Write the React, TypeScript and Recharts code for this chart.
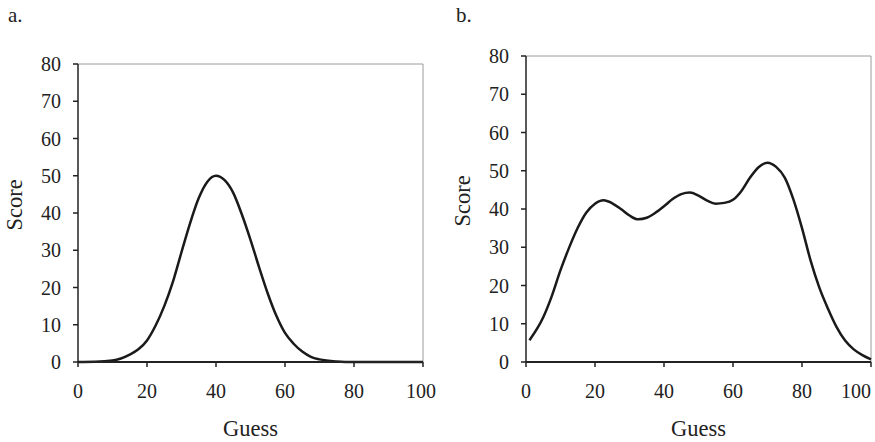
import { LineChart, Line, XAxis, YAxis, ReferenceLine } from 'recharts';

// panel a: single peak
const guessA = [0, 5, 10, 15, 17.5, 20, 22.5, 25, 27.5, 30, 32.5, 35, 37.5, 40, 42.5, 45, 47.5, 50, 52.5, 55, 57.5, 60, 62.5, 65, 67.5, 70, 75, 80, 85, 90, 95, 100];
const scoreA = [0, 0.05, 0.4, 2.0, 3.4, 5.8, 9.8, 15, 21.5, 29.5, 37.3, 44, 48.4, 50, 48.8, 45.4, 39.6, 32.8, 25.4, 18.4, 12.4, 7.8, 4.9, 2.8, 1.4, 0.7, 0.15, 0, 0, 0, 0, 0];

// panel b: several bumps
const guessB = [1, 5, 7.5, 10, 12.5, 15, 17.5, 20, 22.5, 25, 27.5, 30, 32.5, 35, 37.5, 40, 42.5, 45, 47.5, 50, 52.5, 55, 57.5, 60, 62.5, 65, 67.5, 70, 72.5, 75, 77.5, 80, 82.5, 85, 87.5, 90, 92.5, 95, 97.5, 100];
const scoreB = [5.7, 11.7, 17.3, 24, 29.9, 35.1, 39.1, 41.4, 42.3, 41.5, 40, 38.3, 37.3, 37.7, 39, 40.7, 42.6, 43.9, 44.3, 43.5, 42.2, 41.4, 41.6, 42.4, 44.8, 48.3, 51, 52.1, 51, 48.2, 42.5, 35, 26.5, 19.5, 14, 9.2, 5.6, 3.3, 1.8, 0.7];

const xTicks = [0, 20, 40, 60, 80, 100];
const yTicks = [0, 10, 20, 30, 40, 50, 60, 70, 80];

const dataA = guessA.map((x, i) => ({ guess: x, score: scoreA[i] }));
const dataB = guessB.map((x, i) => ({ guess: x, score: scoreB[i] }));

const FONT = '"Liberation Serif", "DejaVu Serif", serif';
const ink = '#222';
const tickStyle = { fill: ink, fontSize: 20, fontFamily: FONT };
const titleStyle = { fill: ink, fontSize: 22.5, fontFamily: FONT };

// x tick that is pulled back inside the chart when it would run off the right edge
function makeXTick(maxX: number) {
  return (props: any) => {
    const { x, y, payload } = props;
    const label = String(payload.value);
    const half = label.length * 5;
    const cx = Math.min(x, maxX - half);
    return (
      <text x={cx} y={y} dy="0.71em" textAnchor="middle" {...tickStyle}>
        {label}
      </text>
    );
  };
}

type Margin = { top: number; right: number; left: number; bottom: number };

function Panel({ data, width, margin }: { data: { guess: number; score: number }[]; width: number; margin: Margin }) {
  return (
    <LineChart width={width} height={442} data={data} margin={margin}>
      <XAxis
        dataKey="guess"
        type="number"
        domain={[0, 100]}
        ticks={xTicks}
        interval={0}
        height={80}
        tick={makeXTick(width - 4)}
        tickSize={5}
        tickMargin={17}
        axisLine={{ stroke: ink, strokeWidth: 2 }}
        tickLine={{ stroke: ink, strokeWidth: 1.5 }}
        label={{ value: 'Guess', position: 'insideBottom', offset: 6, style: titleStyle }}
      />
      <YAxis
        type="number"
        domain={[0, 80]}
        ticks={yTicks}
        interval={0}
        width={70}
        tick={tickStyle}
        tickSize={5}
        tickMargin={12}
        axisLine={{ stroke: ink, strokeWidth: 1.5 }}
        tickLine={{ stroke: ink, strokeWidth: 1.5 }}
        label={{ value: 'Score', angle: -90, position: 'insideLeft', offset: 6, dy: -8, style: { ...titleStyle, textAnchor: 'middle' } }}
      />
      <ReferenceLine y={80} stroke="#9a9a9a" strokeWidth={1} />
      <ReferenceLine x={100} stroke="#9a9a9a" strokeWidth={1} />
      <Line dataKey="score" type="monotone" stroke="#1a1a1a" strokeWidth={2.5} dot={false} isAnimationActive={false} />
    </LineChart>
  );
}

const panelLetter = { position: 'absolute' as const, top: 5, fontFamily: FONT, fontSize: 21, lineHeight: '20px', color: ink };

export default function App() {
  return (
    <div style={{ position: 'absolute', left: 0, top: 0, width: 875, height: 442, background: '#fff' }}>
      <div style={{ position: 'absolute', left: 0, top: 0 }}>
        <Panel data={dataA} width={440} margin={{ top: 64, right: 17, left: 8, bottom: 0 }} />
      </div>
      <div style={{ position: 'absolute', left: 440, top: 0 }}>
        <Panel data={dataB} width={435} margin={{ top: 56, right: 4, left: 16, bottom: 0 }} />
      </div>
      <div style={{ ...panelLetter, left: 8 }}>a.</div>
      <div style={{ ...panelLetter, left: 456 }}>b.</div>
    </div>
  );
}
